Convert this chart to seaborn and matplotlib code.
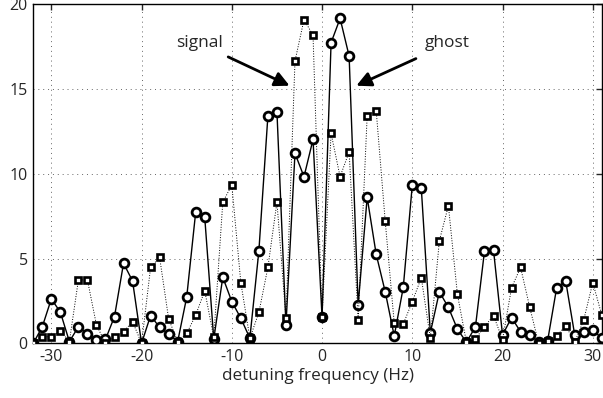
import seaborn as sns
import pandas as pd
import numpy as np
from matplotlib import pyplot as plt

# detuning frequency axis (Hz)
freq = list(range(-32, 32))

# solid line, circles (signal spectrum)
circ = [0.0, 0.98, 2.62, 1.84, 0.1, 0.98, 0.55, 0.2, 0.23, 1.58, 4.72, 3.68,
        0.0, 1.64, 0.94, 0.55, 0.1, 2.72, 7.76, 7.43, 0.25, 3.9, 2.46, 1.48,
        0.3, 5.46, 13.43, 13.67, 1.08, 11.21, 9.83, 12.03,
        1.54, 17.74, 19.17, 16.95, 2.26, 8.61, 5.25, 3.04, 0.43, 3.3, 9.34, 9.14,
        0.62, 3.04, 2.12, 0.84, 0.06, 0.98, 5.44, 5.5, 0.49, 1.52, 0.68, 0.49,
        0.1, 0.16, 3.28, 3.68, 0.49, 0.64, 0.78, 0.3]

# dotted line, squares (ghost spectrum)
sq = [0.0, 0.39, 0.39, 0.74, 0.1, 3.74, 3.74, 1.08, 0.0, 0.39, 0.68, 1.28,
      0.0, 4.48, 5.07, 1.44, 0.1, 0.58, 1.67, 3.1, 0.35, 8.33, 9.34, 3.58,
      0.3, 1.82, 4.48, 8.33, 1.48, 16.65, 19.1, 18.18,
      1.54, 12.39, 9.83, 11.3, 1.38, 13.43, 13.73, 7.21, 1.18, 1.14, 2.46, 3.87,
      0.3, 6.05, 8.12, 2.89, 0.06, 0.26, 0.98, 1.64, 0.22, 3.28, 4.48, 2.16,
      0.0, 0.16, 0.43, 1.04, 0.06, 1.38, 3.58, 1.67]

xticks = [-30, -20, -10, 0, 10, 20, 30]
yticks = [0, 5, 10, 15, 20]

sns.set_style('white')
plt.rcParams['font.family'] = ['Open Sans', 'DejaVu Sans']
plt.rcParams['axes.unicode_minus'] = False

df = pd.DataFrame({'f': freq, 'circ': circ, 'sq': sq})

fig = plt.figure(figsize=(6.03, 3.98), dpi=100)
ax = fig.add_axes([0.0552, 0.1374, 0.9428, 0.8516])

sns.lineplot(data=df, x='f', y='circ', ax=ax, color='k', lw=1.0,
             marker='o', markersize=6.3, markerfacecolor='white',
             markeredgecolor='k', markeredgewidth=2.0, zorder=3)
sns.lineplot(data=df, x='f', y='sq', ax=ax, color='k', lw=0.7, linestyle=':',
             marker='s', markersize=4.8, markerfacecolor='white',
             markeredgecolor='k', markeredgewidth=1.9, zorder=4)

ax.set_xlim(-32, 31)
ax.set_ylim(0, 20)
ax.set_xticks(xticks)
ax.set_yticks(yticks)
ax.set_xticklabels([str(t) for t in xticks])
ax.grid(True, linestyle=(0, (1, 4)), color='#666666', lw=0.7)
ax.tick_params(direction='in', length=4, width=1, top=True, right=True,
               labelsize=11.5, pad=4)
for s in ax.spines.values():
    s.set_linewidth(1.0)
    s.set_color('k')
ax.set_xlabel('detuning frequency (Hz)', fontsize=12.3, labelpad=2)
ax.set_ylabel('')

ax.text(-13.6, 17.7, 'signal', fontsize=12.5, ha='center', va='center')
ax.text(13.9, 17.7, 'ghost', fontsize=12.5, ha='center', va='center')
ax.annotate('', xy=(-3.6, 15.2), xytext=(-10.4, 16.9),
            arrowprops=dict(arrowstyle='-|>', color='k', lw=2.0,
                            mutation_scale=22, shrinkA=0, shrinkB=0))
ax.annotate('', xy=(3.8, 15.2), xytext=(10.4, 16.8),
            arrowprops=dict(arrowstyle='-|>', color='k', lw=2.0,
                            mutation_scale=22, shrinkA=0, shrinkB=0))

fig.savefig('out.png', dpi=100)
